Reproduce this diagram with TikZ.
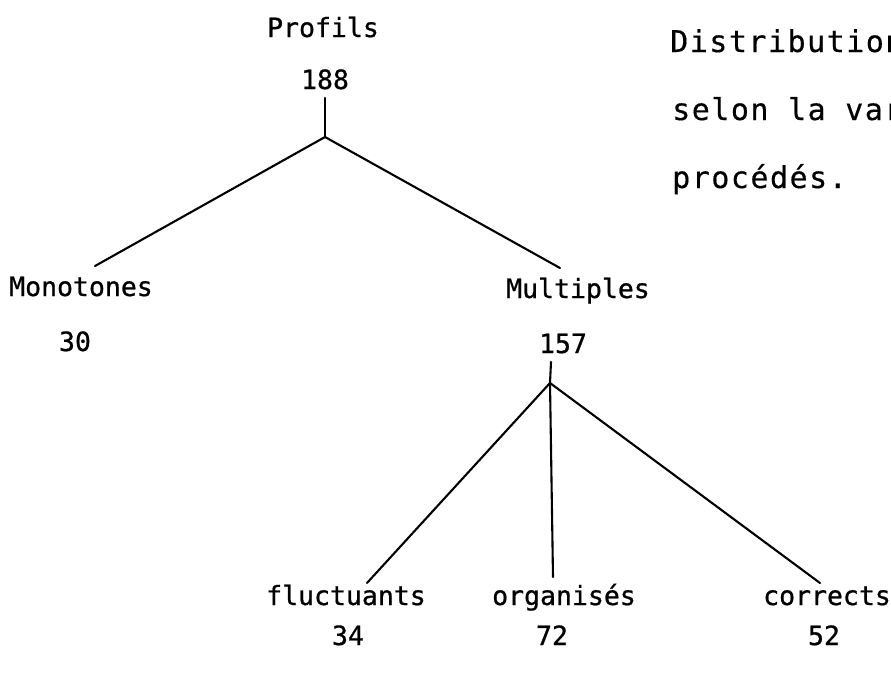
\documentclass[tikz,border=0pt]{standalone}
\usepackage{fontspec}
\newfontfamily\labelfont[FakeBold=0.8]{DejaVu Sans Mono}
\newfontfamily\captionfont[LetterSpace=5,FakeBold=0.4]{DejaVu Sans Mono}
\begin{document}
\begin{tikzpicture}[x=1pt,y=-1pt,
  lbl/.style={font=\labelfont\fontsize{26.5}{30}\selectfont, inner sep=0pt, anchor=base},
  note/.style={font=\captionfont\fontsize{30}{34}\selectfont, inner sep=0pt, anchor=base west},
  branch/.style={line width=2.1pt, line cap=round}]
\useasboundingbox (0,0) rectangle (891,680);
\clip (0,0) rectangle (891,680);
\fill[white] (0,0) rectangle (891,680);

% caption at the upper right
\node[note] (cap1) at (670,52)  {Distribution};
\node[note] (cap2) at (672,120) {selon la var};
\node[note] (cap3) at (672,188) {procédés.};

% root
\node[lbl] (root)  at (323,37) {Profils};
\node[lbl] (n188)  at (325,89) {188};

% first level
\node[lbl] (mono)  at (81,296)  {Monotones};
\node[lbl] (n30)   at (75,351)  {30};
\node[lbl] (multi) at (578,298) {Multiples};
\node[lbl] (n157)  at (563,353) {157};

% second level
\node[lbl] (fluct) at (346,605) {fluctuants};
\node[lbl] (n34)   at (348,645) {34};
\node[lbl] (orga)  at (564,605) {organisés};
\node[lbl] (n72)   at (552,645) {72};
\node[lbl] (corr)  at (827,605) {corrects};
\node[lbl] (n52)   at (824,645) {52};

% branching points and line ends
\coordinate (r-stem)  at (325,98);
\coordinate (r-fork)  at (325,137);
\coordinate (mono-in) at (95,266);
\coordinate (multi-in) at (560,268);
\coordinate (m-stem)  at (551,362);
\coordinate (m-fork)  at (550,383);
\coordinate (fluct-in) at (367,583);
\coordinate (orga-in)  at (553,577);
\coordinate (corr-in)  at (820,583);

\draw[branch] (r-stem) -- (r-fork);
\draw[branch] (r-fork) -- (mono-in);
\draw[branch] (r-fork) -- (multi-in);

\draw[branch] (m-stem) -- (m-fork);
\draw[branch] (m-fork) -- (fluct-in);
\draw[branch] (m-fork) -- (orga-in);
\draw[branch] (m-fork) -- (corr-in);
\end{tikzpicture}
\end{document}
